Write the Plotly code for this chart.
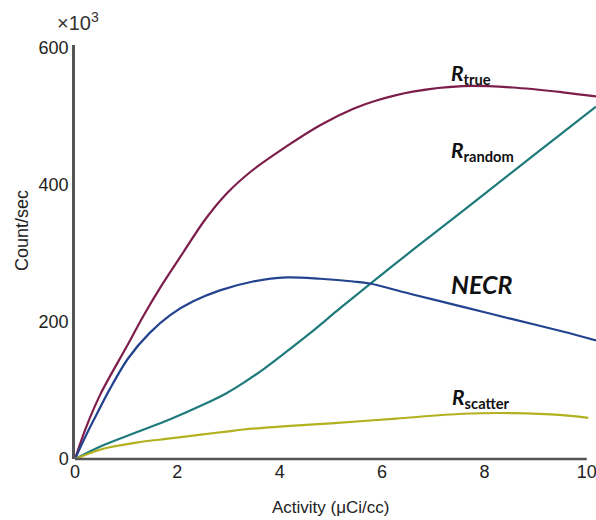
import plotly.graph_objects as go

# Activity (µCi/cc) sample positions and count rates (x10^3 counts/sec)
x_true = [0, 0.2, 0.5, 1.01, 1.33, 1.69, 2.12, 2.54, 2.96, 3.48, 4.13, 4.79, 5.44, 5.89, 6.6, 7.58, 8.55, 9.53, 10.18]
r_true = [0, 43, 95, 164, 208, 253, 302, 349, 387, 422, 456, 487, 511, 523, 536, 544, 542, 535, 529]

x_necr = [0, 0.2, 0.36, 0.68, 1.04, 1.46, 1.86, 2.31, 2.83, 3.48, 4.13, 4.79, 5.44, 5.76, 6.6, 7.58, 8.55, 9.53, 10.18]
necr = [0, 32, 56, 102, 147, 184, 210, 230, 246, 259, 265, 263, 259, 256, 240, 222, 204, 186, 173]

x_rand = [0, 0.55, 1.2, 1.86, 2.5, 2.96, 3.29, 3.7, 4.07, 4.6, 5.18, 5.76, 6.6, 7.58, 8.55, 9.53, 10.18]
r_random = [0, 20, 39, 58, 79, 96, 111, 132, 153, 184, 220, 255, 305, 362, 419, 476, 514]

x_scat = [0, 0.55, 1.2, 1.86, 2.5, 2.96, 3.29, 4.13, 5.0, 6.28, 7.58, 8.55, 9.53, 10.03]
r_scatter = [0, 15, 24, 30, 36, 40, 43, 48, 52, 59, 66, 67, 64, 60]

x_ticks = [0, 2, 4, 6, 8, 10]
y_ticks = [0, 200, 400, 600]

series = [
    ("R_true", x_true, r_true, "#7d1d4b"),
    ("R_random", x_rand, r_random, "#1f7a7c"),
    ("NECR", x_necr, necr, "#23438f"),
    ("R_scatter", x_scat, r_scatter, "#b3b11f"),
]

fig = go.Figure()
for name, xs, ys, col in series:
    fig.add_trace(go.Scatter(x=xs, y=ys, mode="lines", name=name,
                             line=dict(color=col, width=2.2, shape="spline", smoothing=0.9),
                             showlegend=False))

fig.update_layout(
    width=596, height=520,
    margin=dict(l=75, r=0, t=45, b=61),
    plot_bgcolor="white", paper_bgcolor="white",
    font=dict(family="Liberation Sans, Arial, sans-serif", size=18, color="#222"),
    xaxis=dict(range=[0, 10.18], tickvals=x_ticks, ticktext=[str(v) for v in x_ticks],
               showgrid=False, zeroline=False, showline=False, ticks="", ticklen=0,
               ticklabeloverflow="allow", tickfont=dict(size=18, color="#222")),
    yaxis=dict(range=[0, 604], tickvals=y_ticks, ticktext=[str(v) for v in y_ticks],
               showgrid=False, zeroline=False, showline=True, linecolor="#555", linewidth=2.5,
               ticks="", ticklen=0, tickfont=dict(size=18, color="#222")),
)

# x axis line ending at 10
fig.add_shape(type="line", xref="x", yref="paper", x0=0, x1=10, y0=0, y1=0,
              line=dict(color="#555", width=2.5))

fig.add_annotation(text="Activity (\u03bcCi/cc)", xref="paper", yref="paper",
                   x=(330 - 75) / 521, y=-(507 - 459) / 414, xanchor="center", yanchor="middle",
                   showarrow=False, font=dict(size=17, color="#222"))
fig.add_annotation(text="Count/sec", xref="paper", yref="paper",
                   x=-(75 - 22) / 521, y=(459 - 231) / 414, xanchor="center", yanchor="middle",
                   textangle=-90, showarrow=False, font=dict(size=18, color="#222"))
fig.add_annotation(text="\u00d710<sup>3</sup>", xref="paper", yref="paper",
                   x=-(75 - 55) / 521, y=(459 - 22) / 414, xanchor="left", yanchor="middle",
                   showarrow=False, font=dict(size=20, color="#333"))

lab_font = "Lato, Open Sans, sans-serif"
labels = [
    ("<b><i>R</i></b><sub><b>true</b></sub>", 7.31, 562, 21),
    ("<b><i>R</i></b><sub><b>random</b></sub>", 7.31, 449, 21),
    ("<b><i>NECR</i></b>", 7.30, 255, 25),
    ("<b><i>R</i></b><sub><b>scatter</b></sub>", 7.33, 89, 21),
]
for txt, lx, ly, fs in labels:
    fig.add_annotation(text=txt, x=lx, y=ly, xref="x", yref="y", xanchor="left",
                       yanchor="middle", showarrow=False,
                       font=dict(family=lab_font, size=fs, color="#111"))

fig.write_html("out.html")
